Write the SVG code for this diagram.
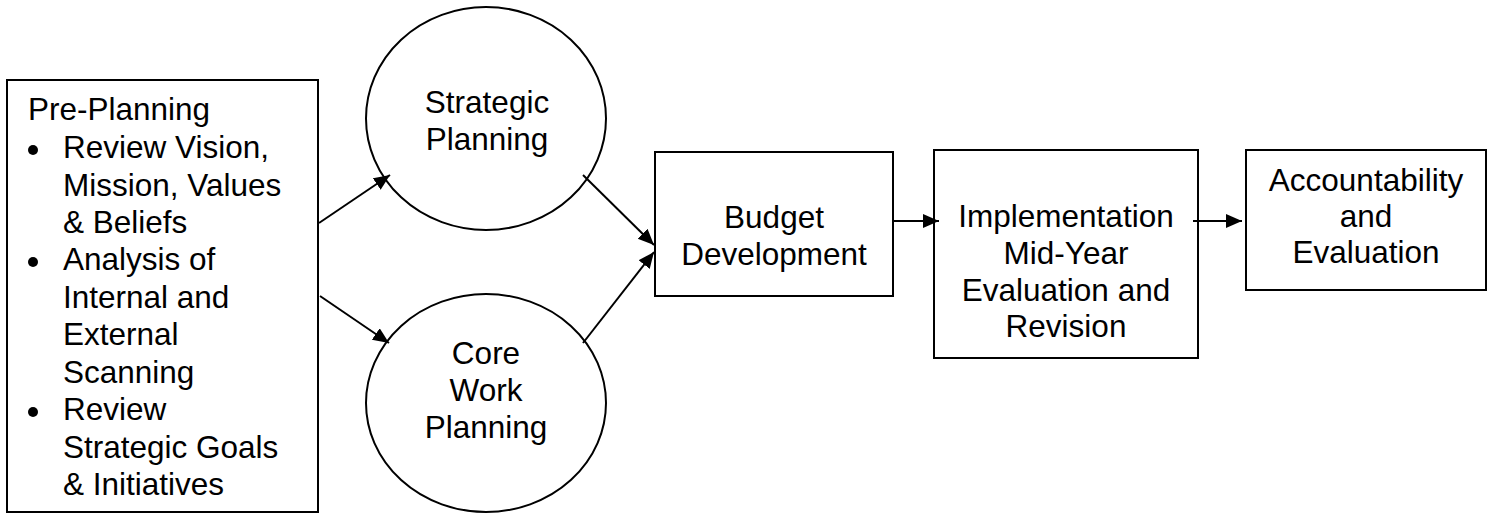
<svg xmlns="http://www.w3.org/2000/svg" width="1491" height="513" viewBox="0 0 1491 513">
  <style>
    .box { fill: #ffffff; stroke: #000000; stroke-width: 2; }
    .lbl { font-family: "Liberation Sans", Arial, sans-serif; font-size: 31.5px; fill: #000000; }
    .mid { text-anchor: middle; }
    .link { fill: none; stroke: #000000; stroke-width: 2; marker-end: url(#arrow); }
  </style>
  <defs>
    <marker id="arrow" markerUnits="userSpaceOnUse" markerWidth="17" markerHeight="15" refX="16" refY="7" orient="auto">
      <path d="M0,0 L16,7 L0,14 z" fill="#000000"/>
    </marker>
  </defs>
  <rect width="1491" height="513" fill="#ffffff"/>

  <!-- Pre-planning list -->
  <g id="pre-planning">
    <rect class="box" x="7" y="80" width="311" height="432"/>
    <text class="lbl" x="28" y="120">Pre-Planning</text>
    <g class="lbl">
      <circle cx="33" cy="150" r="5"/>
      <circle cx="33" cy="262" r="5"/>
      <circle cx="33" cy="412" r="5"/>
    </g>
    <text class="lbl" x="63" y="158">Review Vision,</text>
    <text class="lbl" x="63" y="195.5">Mission, Values</text>
    <text class="lbl" x="63" y="233">&amp; Beliefs</text>
    <text class="lbl" x="63" y="270">Analysis of</text>
    <text class="lbl" x="63" y="307.5">Internal and</text>
    <text class="lbl" x="63" y="345">External</text>
    <text class="lbl" x="63" y="382.5">Scanning</text>
    <text class="lbl" x="63" y="420">Review</text>
    <text class="lbl" x="63" y="457.5">Strategic Goals</text>
    <text class="lbl" x="63" y="495">&amp; Initiatives</text>
  </g>

  <!-- Planning ellipses -->
  <g id="strategic-planning">
    <ellipse class="box" cx="486" cy="118.5" rx="120" ry="111.5"/>
    <text class="lbl mid" x="487" y="113">Strategic</text>
    <text class="lbl mid" x="487" y="150">Planning</text>
  </g>
  <g id="core-work-planning">
    <ellipse class="box" cx="486" cy="403" rx="120" ry="109"/>
    <text class="lbl mid" x="486" y="364">Core</text>
    <text class="lbl mid" x="486" y="401">Work</text>
    <text class="lbl mid" x="486" y="438">Planning</text>
  </g>

  <!-- Process steps -->
  <g id="budget-development">
    <rect class="box" x="655" y="152" width="238" height="144"/>
    <text class="lbl mid" x="774" y="228">Budget</text>
    <text class="lbl mid" x="774" y="265">Development</text>
  </g>
  <g id="implementation">
    <rect class="box" x="934" y="150" width="264" height="208"/>
    <text class="lbl mid" x="1066" y="227">Implementation</text>
    <text class="lbl mid" x="1066" y="264">Mid-Year</text>
    <text class="lbl mid" x="1066" y="300.5">Evaluation and</text>
    <text class="lbl mid" x="1066" y="337">Revision</text>
  </g>
  <g id="accountability">
    <rect class="box" x="1246" y="150" width="240" height="140"/>
    <text class="lbl mid" x="1366" y="191">Accountability</text>
    <text class="lbl mid" x="1366" y="227">and</text>
    <text class="lbl mid" x="1366" y="263">Evaluation</text>
  </g>

  <!-- Connectors -->
  <g id="connectors">
    <line class="link" x1="319" y1="223" x2="390" y2="175"/>
    <line class="link" x1="320" y1="296" x2="389" y2="343"/>
    <line class="link" x1="583" y1="175" x2="654" y2="245"/>
    <line class="link" x1="583" y1="343" x2="654" y2="252"/>
    <line class="link" x1="893" y1="221" x2="939" y2="221"/>
    <line class="link" x1="1193" y1="221" x2="1242" y2="221"/>
  </g>
</svg>
